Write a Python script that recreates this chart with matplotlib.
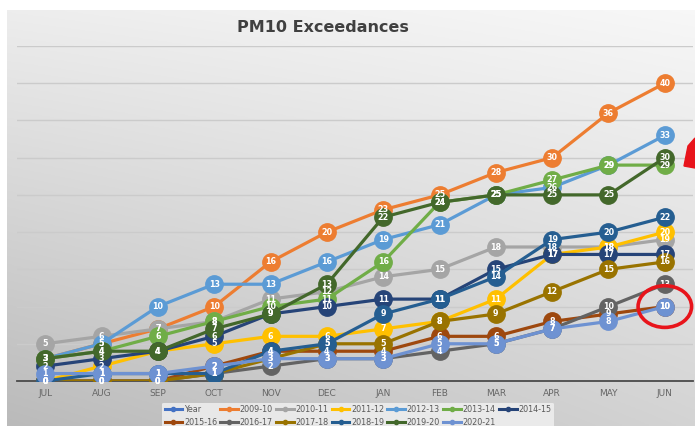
import numpy as np
import matplotlib.pyplot as plt
from matplotlib.lines import Line2D
from matplotlib.patches import Ellipse, Polygon

months = ['JUL', 'AUG', 'SEP', 'OCT', 'NOV', 'DEC', 'JAN', 'FEB', 'MAR', 'APR', 'MAY', 'JUN']
seasons = ['Year', '2009-10', '2010-11', '2011-12', '2012-13', '2013-14', '2014-15',
           '2015-16', '2016-17', '2017-18', '2018-19', '2019-20', '2020-21']
colors = ['#4472C4', '#ED7D31', '#A5A5A5', '#FFC000', '#5B9BD5', '#70AD47', '#264478',
          '#9E480E', '#636363', '#997300', '#255E91', '#43682B', '#6E92D2']

year = []
s0910 = [3, 5, 7, 10, 16, 20, 23, 25, 28, 30, 36, 40]
s1011 = [5, 6, 7, 8, 11, 12, 14, 15, 18, 18, 18, 19]
s1112 = [0, 2, 4, 5, 6, 6, 7, 8, 11, 17, 18, 20]
s1213 = [3, 5, 10, 13, 13, 16, 19, 21, 25, 26, 29, 33]
s1314 = [3, 4, 6, 8, 10, 11, 16, 24, 25, 27, 29, 29]
s1415 = [2, 3, 4, 6, 9, 10, 11, 11, 15, 17, 17, 17]
s1516 = [0, 0, 0, 2, 4, 4, 4, 6, 6, 8, 9, 10]
s1617 = [0, 0, 0, 1, 2, 3, 3, 4, 5, 7, 10, 13]
s1718 = [0, 0, 0, 1, 3, 5, 5, 8, 9, 12, 15, 16]
s1819 = [0, 1, 1, 1, 4, 5, 9, 11, 14, 19, 20, 22]
s1920 = [3, 4, 4, 7, 9, 13, 22, 24, 25, 25, 25, 30]
s2021 = [1, 1, 1, 2, 3, 3, 3, 5, 5, 7, 8, 10]
series = [year, s0910, s1011, s1112, s1213, s1314, s1415,
          s1516, s1617, s1718, s1819, s1920, s2021]

W, H = 695, 426
fig = plt.figure(figsize=(W / 100, H / 100), dpi=100)
fig.patch.set_facecolor('white')

# gradient background of the chart area
bg = fig.add_axes([7 / W, 0, 1 - 7 / W, 1 - 10 / H], zorder=-5)
yy, xx = np.mgrid[0:1:200j, 0:1:300j]
shade = 0.97 - 0.14 * yy - 0.06 * (1 - xx) * yy - 0.04 * (1 - xx)
bg.imshow(np.dstack([shade] * 3), extent=[0, 1, 0, 1], aspect='auto', origin='upper')
bg.axis('off')

ax = fig.add_axes([17 / W, (H - 381) / H, (693 - 17) / W, 335 / H])
ax.set_facecolor('none')
x = np.arange(len(months))

for name, vals, c in zip(seasons, series, colors):
    if len(vals) == 0:
        continue
    ax.plot(x, vals, color=c, lw=2.3, marker='o', ms=12.5, mec=c, mfc=c, zorder=3)
    for xi, v in zip(x, vals):
        ax.text(xi, v, str(v), color='white', fontsize=5.8, fontweight='bold',
                ha='center', va='center', zorder=4)

ax.set_xlim(-0.5, 11.5)
ax.set_ylim(0, 45)
ax.set_yticks(np.arange(5, 50, 5))
ax.grid(axis='y', color='#cbcbcb', lw=1)
ax.set_axisbelow(True)
ax.tick_params(axis='y', left=False, labelleft=False)
ax.set_xticks(x)
ax.set_xticklabels(months, fontsize=6.5, color='#666666')
ax.tick_params(axis='x', length=0, pad=6)
for s in ['top', 'right', 'left']:
    ax.spines[s].set_visible(False)
ax.spines['bottom'].set_color('#4a4a4a')
ax.spines['bottom'].set_linewidth(1.3)

fig.text(323 / W, 1 - 27 / H, 'PM10 Exceedances', ha='center', va='center',
         fontsize=11.5, fontweight='bold', color='#404040')

# legend: reorder so matplotlib's column fill gives two rows in series order
handles = [Line2D([], [], color=c, lw=2.2, marker='o', ms=3) for c in colors]
order = []
for i in range(7):
    order.append(i)
    if i + 7 < len(seasons):
        order.append(i + 7)
leg = fig.legend([handles[i] for i in order], [seasons[i] for i in order],
                 ncol=7, loc='center', bbox_to_anchor=(358 / W, 1 - 416 / H),
                 fontsize=5.8, frameon=True, handlelength=2.2, handletextpad=0.2,
                 columnspacing=0.4, labelspacing=0.45, borderpad=0.3)
leg.get_frame().set_facecolor('#f2f2f2')
leg.get_frame().set_edgecolor('none')
leg.get_frame().set_alpha(0.8)
for t in leg.get_texts():
    t.set_color('#595959')

# red highlight around the latest value
ax.add_patch(Ellipse((11, 10), 0.95, 5.6, fill=False, ec='#E8141B', lw=2.6, zorder=6,
                     clip_on=False))
fig.patches.append(Polygon([[688 / W, 1 - 146 / H], [695 / W, 1 - 138 / H],
                            [695 / W, 1 - 168 / H], [684 / W, 1 - 166 / H]],
                           closed=True, transform=fig.transFigure,
                           color='#E8141B', zorder=6))

fig.savefig('out.png', dpi=100)
